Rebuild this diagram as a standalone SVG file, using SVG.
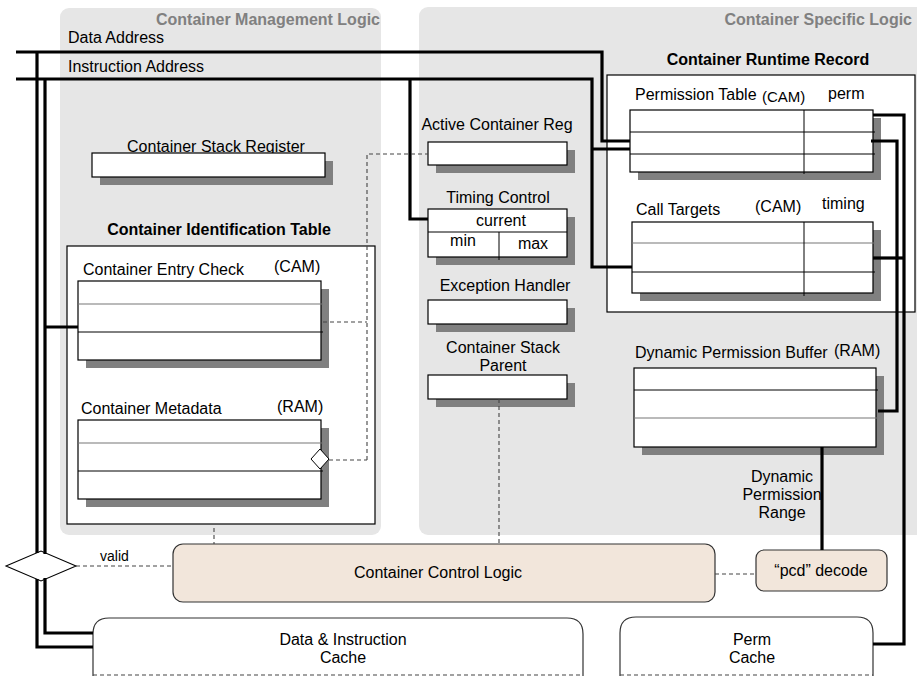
<svg xmlns="http://www.w3.org/2000/svg" width="917" height="677" viewBox="0 0 917 677">
<style>
text{font-family:"Liberation Sans",Arial,sans-serif;font-size:16px;fill:#000}
.t{font-weight:bold;fill:#808080;font-size:16px}
.b{font-weight:bold;font-size:16px}
.m{text-anchor:middle}
.e{text-anchor:end}
.s{font-size:15px}
.panel{fill:#e6e6e6}
.box{fill:#fff;stroke:#000;stroke-width:1.2}
.sh{fill:#808080}
.row{stroke:#000;stroke-width:1}
.rowg{stroke:#777;stroke-width:1.2}
.logic{fill:#f2e6db;stroke:#333;stroke-width:1.2}
.cache{fill:#fff;stroke:#333;stroke-width:1.2}
.dash{fill:none;stroke:#444;stroke-width:1.1;stroke-dasharray:4 3}
.wire{fill:none;stroke:#000;stroke-width:3.2;stroke-linejoin:miter;stroke-linecap:butt}
</style>

<g id="panels">
<rect class="panel" x="60" y="8" width="321" height="527" rx="9"/>
<rect class="panel" x="419" y="7" width="510" height="528" rx="9"/>
<text class="t e" x="380" y="25">Container Management Logic</text>
<text class="t e" x="912" y="25">Container Specific Logic</text>
</g>

<g id="bus-labels">
<text x="68" y="43">Data Address</text>
<text x="68" y="72">Instruction Address</text>
</g>

<g id="container-stack-register">
<text class="m" x="216" y="152">Container Stack Register</text>
<rect class="sh" x="100" y="161" width="233" height="24"/>
<rect class="box" x="92" y="153" width="233" height="24"/>
</g>

<g id="container-identification-table">
<text class="b m" x="219" y="235">Container Identification Table</text>
<rect class="box" x="67" y="246" width="308" height="278"/>
</g>

<g id="container-entry-check">
<text x="83" y="275">Container Entry Check</text>
<text x="274" y="272">(CAM)</text>
<rect class="sh" x="86" y="289" width="243" height="79"/>
<rect class="box" x="78" y="281" width="243" height="79"/>
<line class="rowg" x1="78" y1="304" x2="323" y2="304"/>
<line class="row" x1="78" y1="332" x2="323" y2="332"/>
</g>

<g id="container-metadata">
<text x="81" y="414">Container Metadata</text>
<text x="277" y="412">(RAM)</text>
<rect class="sh" x="86" y="428" width="243" height="79"/>
<rect class="box" x="78" y="420" width="243" height="79"/>
<line class="rowg" x1="78" y1="443" x2="323" y2="443"/>
<line class="row" x1="78" y1="471" x2="323" y2="471"/>
<polygon points="311,459 320,449 329,459 320,469" fill="#fff" stroke="#000" stroke-width="1"/>
</g>

<g id="active-container-reg">
<text class="m" x="497" y="130">Active Container Reg</text>
<rect class="sh" x="436" y="150" width="139" height="23"/>
<rect class="box" x="428" y="142" width="139" height="23"/>
</g>

<g id="timing-control">
<text class="m" x="498" y="203">Timing Control</text>
<rect class="sh" x="436" y="217" width="139" height="48"/>
<rect class="box" x="428" y="209" width="139" height="48"/>
<line class="row" x1="428" y1="232" x2="567" y2="232"/>
<line class="row" x1="499" y1="232" x2="499" y2="260"/>
<text class="m" x="501" y="226">current</text>
<text class="m" x="463" y="246">min</text>
<text class="m" x="533" y="249">max</text>
</g>

<g id="exception-handler">
<text class="m" x="505" y="291">Exception Handler</text>
<rect class="sh" x="436" y="308" width="139" height="24"/>
<rect class="box" x="428" y="300" width="139" height="24"/>
</g>

<g id="container-stack-parent">
<text class="m" x="503" y="353">Container Stack</text>
<text class="m" x="503" y="371">Parent</text>
<rect class="sh" x="436" y="383" width="139" height="24"/>
<rect class="box" x="428" y="375" width="139" height="24"/>
</g>

<g id="container-runtime-record">
<text class="b m" x="768" y="65">Container Runtime Record</text>
<rect class="box" x="607" y="75" width="308" height="237"/>
</g>

<g id="permission-table">
<text x="635" y="100">Permission Table</text>
<text class="s" x="762" y="102">(CAM)</text>
<text x="828" y="99">perm</text>
<rect class="sh" x="638" y="118" width="243" height="62"/>
<rect class="box" x="630" y="110" width="243" height="62"/>
<line class="row" x1="630" y1="132" x2="875" y2="132"/>
<line class="row" x1="630" y1="154" x2="875" y2="154"/>
<line class="row" x1="804" y1="110" x2="804" y2="174"/>
</g>

<g id="call-targets">
<text x="636" y="215">Call Targets</text>
<text x="755" y="212">(CAM)</text>
<text x="822" y="209">timing</text>
<rect class="sh" x="640" y="230" width="241" height="71"/>
<rect class="box" x="632" y="222" width="241" height="71"/>
<line class="rowg" x1="632" y1="243" x2="875" y2="243"/>
<line class="row" x1="632" y1="272" x2="875" y2="272"/>
<line class="row" x1="804" y1="222" x2="804" y2="296"/>
</g>

<g id="dynamic-permission-buffer">
<text x="635" y="358">Dynamic Permission Buffer</text>
<text x="834" y="356">(RAM)</text>
<rect class="sh" x="642" y="376" width="242" height="79"/>
<rect class="box" x="634" y="368" width="242" height="79"/>
<line class="row" x1="634" y1="390" x2="878" y2="390"/>
<line class="rowg" x1="634" y1="418" x2="878" y2="418"/>
</g>

<g id="dynamic-permission-range-label">
<text class="m" x="782" y="482">Dynamic</text>
<text class="m" x="782" y="500">Permission</text>
<text class="m" x="782" y="518">Range</text>
</g>

<g id="valid-diamond">
<polygon points="6,566 41,551 76,566 41,581" fill="#fff" stroke="#000" stroke-width="1.1"/>
<text x="100" y="561" style="font-size:14px">valid</text>
</g>

<g id="container-control-logic">
<rect class="logic" x="173" y="544" width="542" height="58" rx="10"/>
<text class="m" x="438" y="578">Container Control Logic</text>
</g>

<g id="pcd-decode">
<rect class="logic" x="756" y="550" width="131" height="41" rx="8"/>
<text class="m" x="821" y="576">“pcd” decode</text>
</g>

<g id="data-instruction-cache">
<path class="cache" d="M93,676 V634 Q93,618 109,618 H567 Q583,618 583,634 V676"/>
<line class="dash" x1="93" y1="675" x2="583" y2="675"/>
<text class="m" x="343" y="645">Data &amp; Instruction</text>
<text class="m" x="343" y="663">Cache</text>
</g>

<g id="perm-cache">
<path class="cache" d="M620,676 V633 Q620,617 636,617 H857 Q873,617 873,633 V676"/>
<line class="dash" x1="620" y1="675" x2="873" y2="675"/>
<text class="m" x="752" y="645">Perm</text>
<text class="m" x="752" y="663">Cache</text>
</g>

<g id="connectors">
<path class="wire" d="M16,52 H602 V141 H630"/>
<path class="wire" d="M16,79 H592 V267 H632"/>
<path class="wire" d="M410,79 V219 H428"/>
<path class="wire" d="M592,149 H630"/>
<path class="wire" d="M37,52 V553"/>
<path class="wire" d="M45,79 V554"/>
<path class="wire" d="M45,327 H78"/>
<path class="wire" d="M37,579 V647 H93"/>
<path class="wire" d="M45,578 V633 H93"/>
<path class="wire" d="M873,115 H904 V644 H873"/>
<path class="wire" d="M873,258 H904"/>
<path class="wire" d="M871,141 H897 V411 H878"/>
<path class="wire" d="M822,447 V550"/>
<path class="dash" d="M76,566 H173"/>
<path class="dash" d="M715,574 H756"/>
<path class="dash" d="M499,399 V544"/>
<path class="dash" d="M214,528 V544"/>
<path class="dash" d="M323,322 H367"/>
<path class="dash" d="M329,460 H367"/>
<path class="dash" d="M367,460 V154 H428"/>
</g>
</svg>
